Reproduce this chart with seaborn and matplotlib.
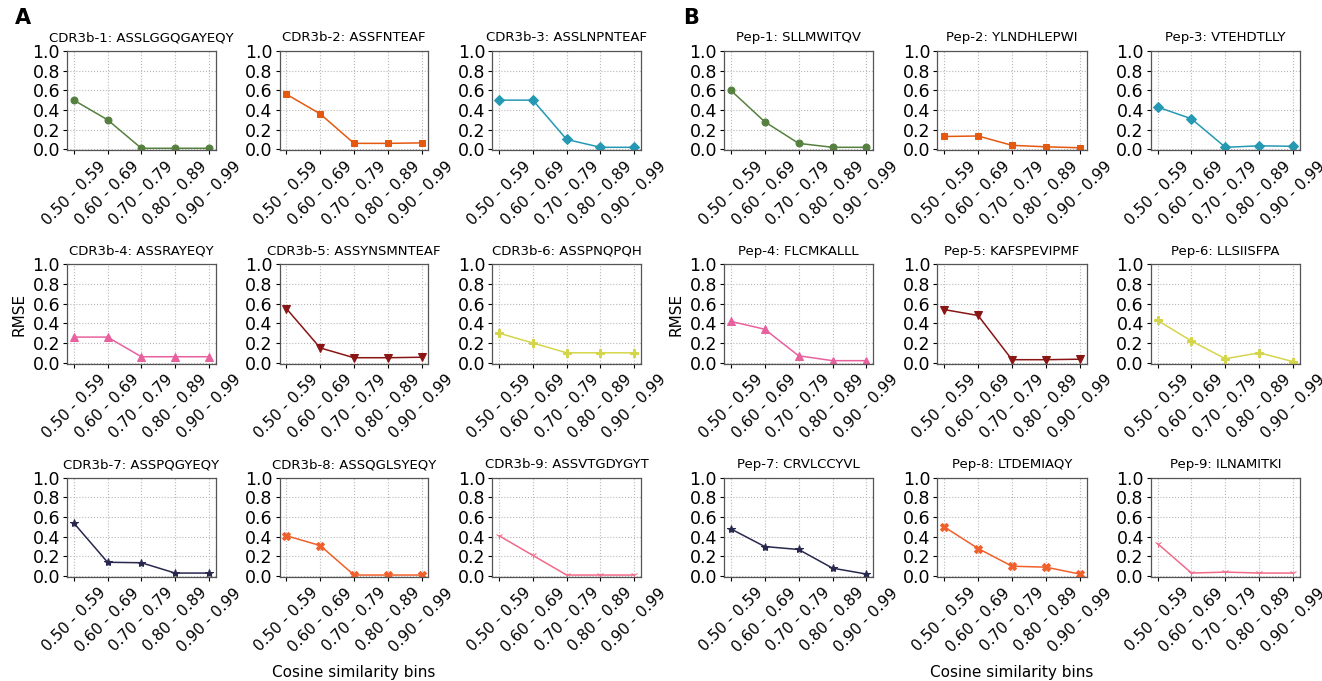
import matplotlib
matplotlib.use("Agg")
import matplotlib.pyplot as plt
import seaborn as sns
import pandas as pd

bins = ["0.50 - 0.59", "0.60 - 0.69", "0.70 - 0.79", "0.80 - 0.89", "0.90 - 0.99"]

cdr_titles = ["CDR3b-1: ASSLGGQGAYEQY", "CDR3b-2: ASSFNTEAF", "CDR3b-3: ASSLNPNTEAF",
              "CDR3b-4: ASSRAYEQY", "CDR3b-5: ASSYNSMNTEAF", "CDR3b-6: ASSPNQPQH",
              "CDR3b-7: ASSPQGYEQY", "CDR3b-8: ASSQGLSYEQY", "CDR3b-9: ASSVTGDYGYT"]
pep_titles = ["Pep-1: SLLMWITQV", "Pep-2: YLNDHLEPWI", "Pep-3: VTEHDTLLY",
              "Pep-4: FLCMKALLL", "Pep-5: KAFSPEVIPMF", "Pep-6: LLSIISFPA",
              "Pep-7: CRVLCCYVL", "Pep-8: LTDEMIAQY", "Pep-9: ILNAMITKI"]

cdr1 = [0.50, 0.30, 0.01, 0.01, 0.01]
cdr2 = [0.56, 0.36, 0.06, 0.06, 0.065]
cdr3 = [0.50, 0.50, 0.10, 0.02, 0.02]
cdr4 = [0.26, 0.26, 0.06, 0.06, 0.06]
cdr5 = [0.55, 0.15, 0.05, 0.05, 0.055]
cdr6 = [0.30, 0.20, 0.10, 0.10, 0.10]
cdr7 = [0.54, 0.14, 0.135, 0.03, 0.03]
cdr8 = [0.41, 0.31, 0.01, 0.01, 0.01]
cdr9 = [0.41, 0.21, 0.01, 0.01, 0.01]

pep1 = [0.60, 0.28, 0.06, 0.02, 0.02]
pep2 = [0.13, 0.135, 0.04, 0.025, 0.015]
pep3 = [0.43, 0.31, 0.02, 0.035, 0.03]
pep4 = [0.42, 0.34, 0.07, 0.02, 0.02]
pep5 = [0.54, 0.48, 0.03, 0.03, 0.035]
pep6 = [0.43, 0.22, 0.04, 0.10, 0.01]
pep7 = [0.48, 0.30, 0.27, 0.08, 0.02]
pep8 = [0.50, 0.28, 0.10, 0.09, 0.02]
pep9 = [0.33, 0.03, 0.04, 0.03, 0.03]

cdr_values = [cdr1, cdr2, cdr3, cdr4, cdr5, cdr6, cdr7, cdr8, cdr9]
pep_values = [pep1, pep2, pep3, pep4, pep5, pep6, pep7, pep8, pep9]

colors = ["#55803f", "#e5580f", "#2599b3", "#e8619f", "#8a1515",
          "#d5d54c", "#28284f", "#f0602b", "#f26a88"]
markers = ["o", "s", "D", "^", "v", "P", "*", "X", "1"]
msizes = [5, 5, 5, 5.5, 5.5, 6, 6, 6, 5]

sns.set_style("ticks")
plt.rcParams['font.family'] = ['DejaVu Sans']
plt.rcParams['text.color'] = 'black'
plt.rcParams['xtick.color'] = 'black'
plt.rcParams['ytick.color'] = 'black'
plt.rcParams['axes.labelcolor'] = 'black'

W, H = 1322, 681
fig = plt.figure(figsize=(W / 100, H / 100), dpi=100)

def panel(left_px, right_px, titles, values):
    gs = fig.add_gridspec(3, 3, left=left_px / W, right=right_px / W,
                          top=1 - 51 / H, bottom=1 - 577 / H,
                          wspace=0.43, hspace=1.15)
    axes = []
    for i in range(9):
        ax = fig.add_subplot(gs[i // 3, i % 3])
        df = pd.DataFrame({"bin": bins, "rmse": values[i]})
        sns.lineplot(data=df, x="bin", y="rmse", ax=ax, color=colors[i],
                     marker=markers[i], markersize=msizes[i], linewidth=1.1,
                     markeredgecolor=colors[i], sort=False)
        ax.set_ylim(-0.01, 1.0)
        ax.set_yticks([0.0, 0.2, 0.4, 0.6, 0.8, 1.0])
        ax.grid(True, linestyle=":", color="#b8b8b8", linewidth=0.8)
        ax.tick_params(axis="y", labelsize=12.5, length=3, pad=2)
        ax.tick_params(axis="x", labelsize=11, length=3, pad=3)
        for lab in ax.get_xticklabels():
            lab.set_rotation(45)
            lab.set_ha("center")
        for s in ax.spines.values():
            s.set_color("#555555")
            s.set_linewidth(0.9)
        ax.set_title(titles[i], fontsize=9.5, pad=7)
        ax.set_xlabel("")
        ax.set_ylabel("RMSE" if i == 3 else "", fontsize=11)
        axes.append(ax)
    return axes

axA = panel(67, 641, cdr_titles, cdr_values)
axB = panel(724, 1300, pep_titles, pep_values)

fig.text(15 / W, 1 - 18 / H, "A", fontsize=15, fontweight="bold", va="center", ha="left")
fig.text(683 / W, 1 - 18 / H, "B", fontsize=15, fontweight="bold", va="center", ha="left")
fig.text(354 / W, 1 - 672 / H, "Cosine similarity bins", fontsize=11, ha="center", va="center")
fig.text(1012 / W, 1 - 672 / H, "Cosine similarity bins", fontsize=11, ha="center", va="center")

fig.savefig("out.png", dpi=100, facecolor="white")
